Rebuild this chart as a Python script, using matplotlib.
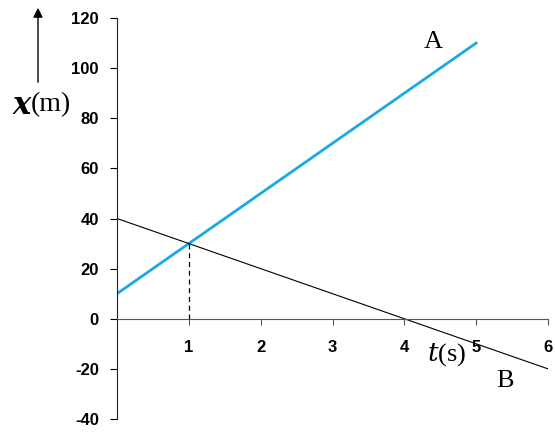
import matplotlib
matplotlib.use("Agg")
import matplotlib.pyplot as plt

t_A = [0, 5]
x_A = [10, 110]
t_B = [0, 6]
x_B = [40, -20]
t_meet = [1, 1]
x_meet = [0, 30]
xticks = [1, 2, 3, 4, 5, 6]
yticks = [-40, -20, 0, 20, 40, 60, 80, 100, 120]

fig = plt.figure(figsize=(5.55, 4.32), dpi=100)
ax = fig.add_axes([117/555, 1-419/432, (548-117)/555, (419-18)/432])
ax.plot(t_A, x_A, color='#1BA9E1', lw=2)
ax.plot(t_B, x_B, color='black', lw=0.8)
ax.plot(t_meet, x_meet, color='black', lw=0.9, ls=(0, (4, 3)))
ax.set_xlim(0, 6)
ax.set_ylim(-40, 120)
ax.spines['top'].set_visible(False)
ax.spines['right'].set_visible(False)
ax.spines['bottom'].set_position(('data', 0))
ax.spines['bottom'].set_color('#555555')
ax.spines['left'].set_color('#222222')
ax.set_xticks(xticks)
ax.set_yticks(yticks)
ax.set_xticklabels([str(v) for v in xticks])
ax.set_yticklabels([str(v) for v in yticks])
ax.tick_params(axis='x', direction='out', length=4, color='#555555', pad=11)
ax.tick_params(axis='y', direction='out', length=5, pad=8)
for lab in ax.get_xticklabels() + ax.get_yticklabels():
    lab.set_fontfamily('Liberation Sans')
    lab.set_fontweight('bold')
    lab.set_fontsize(12)

serif = 'Liberation Serif'
fig.text(433/555, 1-42/432, 'A', fontfamily=serif, fontsize=19, ha='center', va='center')
fig.text(505/555, 1-381/432, 'B', fontfamily=serif, fontsize=19, ha='center', va='center')
fig.text(447/555, 1-355/432, r'$t$(s)', fontfamily=serif, fontsize=19, ha='center', va='center',
         math_fontfamily='dejavuserif')
fig.text(31/555, 1-105/432, '(m)', fontfamily=serif, fontsize=20, ha='left', va='center')
fig.text(31/555, 1-105/432, 'x', fontfamily='DejaVu Serif', fontsize=22, fontweight='bold',
         fontstyle='italic', ha='right', va='center')
fig.add_artist(matplotlib.patches.FancyArrowPatch((38/555, 1-85/432), (38/555, 1-5/432),
               transform=fig.transFigure, arrowstyle='-|>', mutation_scale=14, lw=1, color='black'))

fig.savefig('out.png', dpi=100)
